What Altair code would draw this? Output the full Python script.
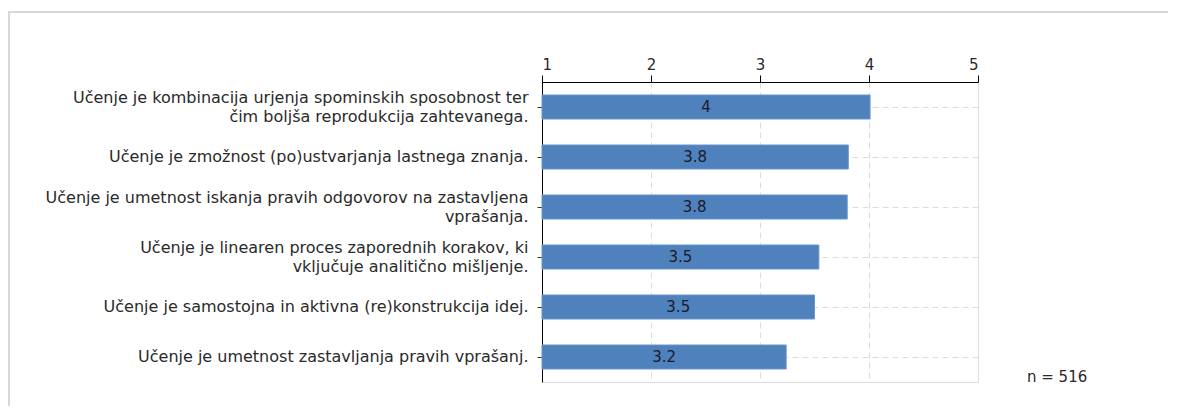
import altair as alt
import pandas as pd

categories = [
    "Učenje je kombinacija urjenja spominskih sposobnost ter|čim boljša reprodukcija zahtevanega.",
    "Učenje je zmožnost (po)ustvarjanja lastnega znanja.",
    "Učenje je umetnost iskanja pravih odgovorov na zastavljena|vprašanja.",
    "Učenje je linearen proces zaporednih korakov, ki|vključuje analitično mišljenje.",
    "Učenje je samostojna in aktivna (re)konstrukcija idej.",
    "Učenje je umetnost zastavljanja pravih vprašanj.",
]
values = [4.01, 3.81, 3.80, 3.54, 3.50, 3.24]
x_ticks = [1, 2, 3, 4, 5]
note = "n = 516"

df = pd.DataFrame({"cat": categories, "val": values})

FONT = "DejaVu Sans"
W, H = 436, 300

y_enc = alt.Y(
    "cat:N",
    sort=categories,
    scale=alt.Scale(paddingInner=0.52, paddingOuter=0.26),
    axis=alt.Axis(
        title=None,
        labelExpr="split(datum.label, '|')",
        labelFont=FONT,
        labelFontSize=16,
        labelColor="#2a2a2a",
        labelLineHeight=19,
        labelPadding=9,
        labelOffset={"condition": {"test": "indexof(datum.value, '|') >= 0", "value": -9.5}, "value": 0},
        tickSize=5,
        tickColor="#333",
        domainColor="#000",
        grid=True,
        gridDash=[6, 4],
        gridColor="#dcdcdc",
        labelLimit=600,
    ),
)

x_scale = alt.Scale(domain=[1, 5], nice=False, zero=False)

bars = alt.Chart(df).mark_bar(color="#4f81bd", stroke="#6b95cc", strokeWidth=1).encode(
    x=alt.X(
        "val:Q",
        scale=x_scale,
        axis=alt.Axis(
            orient="top",
            values=x_ticks,
            title=None,
            format="d",
            labelFont=FONT,
            labelFontSize=15,
            labelColor="#2a2a2a",
            tickSize=7,
            tickColor="#000",
            domainColor="#000",
            grid=True,
            gridDash=[6, 4],
            gridColor="#dcdcdc",
            labelPadding=3,
        ),
    ),
    x2=alt.datum(1),
    y=y_enc,
)

labels = alt.Chart(df).transform_calculate(
    mid="(datum.val + 1) / 2"
).mark_text(font=FONT, fontSize=15, color="#1a1a2a").encode(
    x=alt.X("mid:Q", scale=x_scale),
    y=alt.Y("cat:N", sort=categories),
    text=alt.Text("val:Q", format=".2~r"),
)

note_text = alt.Chart(pd.DataFrame({"t": [note]})).mark_text(
    font=FONT, fontSize=15, color="#2a2a2a", align="left", baseline="middle"
).encode(x=alt.value(485), y=alt.value(295), text="t:N")

frame = alt.Chart(pd.DataFrame({"t": [note]})).mark_rect(
    fill="transparent", stroke="#d8d8d8", strokeWidth=2
).encode(x=alt.value(-533), x2=alt.value(700), y=alt.value(-70), y2=alt.value(400))

chart = alt.layer(frame, bars, labels, note_text).properties(
    width=W,
    height=H,
    padding={"left": 534, "top": 74, "right": 190, "bottom": 24},
    autosize=alt.AutoSizeParams(type="none"),
).configure_view(
    fill="#f5f5f5", stroke="#dddddd"
).configure(background="white")

chart.save("out.html", embed_options={"renderer": "svg", "actions": False})
